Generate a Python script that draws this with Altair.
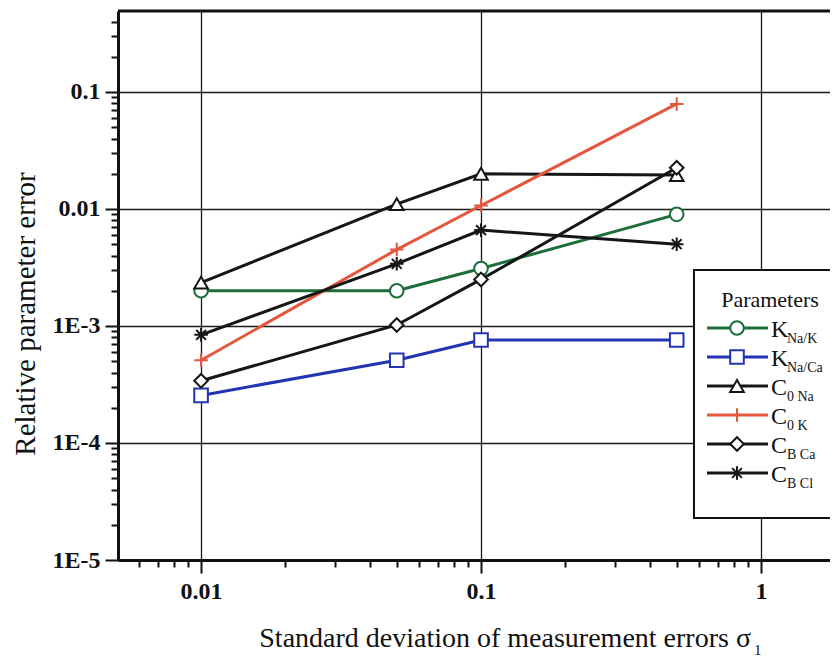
import altair as alt
import pandas as pd

# ---- data ----
sigma = [0.01, 0.05, 0.1, 0.5]
param_keys = ["KNaK", "KNaCa", "C0Na", "C0K", "CBCa", "CBCl"]
k_na_k = [2.0e-3, 2.0e-3, 3.1e-3, 9.0e-3]
k_na_ca = [2.55e-4, 5.1e-4, 7.6e-4, 7.6e-4]
c_0na = [2.35e-3, 1.1e-2, 2.0e-2, 1.95e-2]
c_0k = [5.1e-4, 4.5e-3, 1.07e-2, 7.9e-2]
c_bca = [3.4e-4, 1.02e-3, 2.5e-3, 2.25e-2]
c_bcl = [8.4e-4, 3.4e-3, 6.6e-3, 5.0e-3]
series = [k_na_k, k_na_ca, c_0na, c_0k, c_bca, c_bcl]

legend_main = ["K", "K", "C", "C", "C", "C"]
legend_sub = ["Na/K", "Na/Ca", "0 Na", "0 K", "B Ca", "B Cl"]
colors = ["#1d6e3b", "#2234b4", "#161616", "#e5573c", "#161616", "#161616"]

PLUS = "M-1,0H1M0,-1V1"
STAR = "M-1,0H1M0,-1V1M-0.72,-0.72L0.72,0.72M-0.72,0.72L0.72,-0.72"
shapes = ["circle", "square", "triangle-up", PLUS, "diamond", STAR]

x_major = [0.01, 0.1, 1]
y_major = [1e-5, 1e-4, 1e-3, 0.01, 0.1]
x_domain = [0.00505, 1.764]
y_domain = [1e-5, 0.492]

W, H = 712, 549
FONT = "'Liberation Serif', 'Times New Roman', Times, serif"

rows = []
for key, vals in zip(param_keys, series):
    for s, v in zip(sigma, vals):
        rows.append({"param": key, "sigma": s, "err": v})
df = pd.DataFrame(rows)

x_ticks = [round(m * d, 6) for d in [0.001, 0.01, 0.1, 1] for m in range(1, 10)
           if x_domain[0] <= m * d <= x_domain[1]]
y_ticks = [round(m * d, 8) for d in [1e-5, 1e-4, 1e-3, 1e-2, 1e-1] for m in range(1, 10)
           if y_domain[0] <= m * d <= y_domain[1]]

DEC = "abs(log(datum.value)/LN10 - round(log(datum.value)/LN10)) < 0.001"

color_scale = alt.Scale(domain=param_keys, range=colors)
shape_scale = alt.Scale(domain=param_keys, range=shapes)

axis_common = dict(
    grid=True,
    gridColor="#1a1a1a",
    gridWidth=1.3,
    gridOpacity={"condition": {"test": DEC, "value": 1}, "value": 0},
    tickSize={"condition": {"test": DEC, "value": 13}, "value": 7},
    tickColor="#111111",
    tickWidth=2,
    domainColor="#111111",
    domainWidth=3,
    labelFont=FONT,
    labelFontWeight="bold",
    labelFontSize=24,
    labelColor="#111111",
    labelOverlap=False,
    labelFlush=False,
    labelBound=False,
    title=None,
)

x_enc = alt.X(
    "sigma:Q",
    scale=alt.Scale(type="log", domain=x_domain, nice=False),
    axis=alt.Axis(
        values=x_ticks,
        labelExpr=DEC + " ? format(datum.value, '') : ''",
        labelPadding=6,
        **axis_common,
    ),
)
y_enc = alt.Y(
    "err:Q",
    scale=alt.Scale(type="log", domain=y_domain, nice=False),
    axis=alt.Axis(
        values=y_ticks,
        labelExpr=DEC + " ? (datum.value >= 0.01 ? format(datum.value, '') : '1E' + round(log(datum.value)/LN10)) : ''",
        labelPadding=5,
        **axis_common,
    ),
)

base = alt.Chart(df)
lines = base.mark_line(strokeWidth=3).encode(
    x=x_enc, y=y_enc,
    color=alt.Color("param:N", scale=color_scale, legend=None),
    detail="param:N",
)
points = base.mark_point(size=185, strokeWidth=2, fill="white", fillOpacity=1, opacity=1).encode(
    x=x_enc, y=y_enc,
    color=alt.Color("param:N", scale=color_scale, legend=None),
    shape=alt.Shape("param:N", scale=shape_scale, legend=None),
)

top_border = alt.Chart(pd.DataFrame({"a": [0]})).mark_rule(strokeWidth=3, color="#111111").encode(
    x=alt.value(0), x2=alt.value(W), y=alt.value(0)
)

# ---- custom legend ----
leg = pd.DataFrame({
    "i": list(range(len(param_keys))),
    "param": param_keys,
    "main": legend_main,
    "sub": legend_sub,
})
leg_base = alt.Chart(leg).transform_calculate(
    ly="317 + 29 * datum.i", ly2="326 + 29 * datum.i", ly3="332 + 29 * datum.i"
)

leg_box = alt.Chart(pd.DataFrame({"a": [0]})).mark_rect(
    fill="white", stroke="#111111", strokeWidth=2
).encode(x=alt.value(576), x2=alt.value(W + 20), y=alt.value(259), y2=alt.value(507))

leg_title = alt.Chart(pd.DataFrame({"t": ["Parameters"]})).mark_text(
    font=FONT, fontSize=22, color="#111111", align="center", baseline="middle"
).encode(x=alt.value(652), y=alt.value(289), text="t:N")

leg_lines = leg_base.mark_rule(strokeWidth=3).encode(
    x=alt.value(589), x2=alt.value(650), y=alt.Y("ly:Q", scale=None, axis=None),
    color=alt.Color("param:N", scale=color_scale, legend=None),
)
leg_points = leg_base.mark_point(size=185, strokeWidth=2, fill="white", fillOpacity=1, opacity=1).encode(
    x=alt.value(619), y=alt.Y("ly:Q", scale=None, axis=None),
    color=alt.Color("param:N", scale=color_scale, legend=None),
    shape=alt.Shape("param:N", scale=shape_scale, legend=None),
)
leg_main = leg_base.mark_text(
    font=FONT, fontSize=24, color="#111111", align="left", baseline="alphabetic"
).encode(x=alt.value(653), y=alt.Y("ly2:Q", scale=None, axis=None), text="main:N")
leg_sub = leg_base.mark_text(
    font=FONT, fontSize=14, color="#111111", align="left", baseline="alphabetic"
).encode(x=alt.value(669), y=alt.Y("ly3:Q", scale=None, axis=None), text="sub:N")

# ---- axis titles ----
y_title = alt.Chart(pd.DataFrame({"t": ["Relative parameter error"]})).mark_text(
    font=FONT, fontSize=29, color="#111111", align="center", baseline="middle", angle=270
).encode(x=alt.value(-92), y=alt.value(303), text="t:N")
x_title = alt.Chart(pd.DataFrame({"t": ["Standard deviation of measurement errors σ"]})).mark_text(
    font=FONT, fontSize=28, color="#111111", align="right", baseline="alphabetic"
).encode(x=alt.value(633), y=alt.value(636), text="t:N")
x_title_sub = alt.Chart(pd.DataFrame({"t": ["1"]})).mark_text(
    font=FONT, fontSize=15, color="#111111", align="left", baseline="alphabetic"
).encode(x=alt.value(636), y=alt.value(644), text="t:N")

chart = alt.layer(
    lines, points, top_border,
    leg_box, leg_title, leg_lines, leg_points, leg_main, leg_sub,
    y_title, x_title, x_title_sub,
).properties(
    width=W, height=H,
    autosize=alt.AutoSizeParams(type="none"),
    padding={"left": 110, "top": 3, "right": 0, "bottom": 100},
    background="white",
).configure_view(stroke=None)

chart.save("out.html", embed_options={"renderer": "svg", "actions": False})
